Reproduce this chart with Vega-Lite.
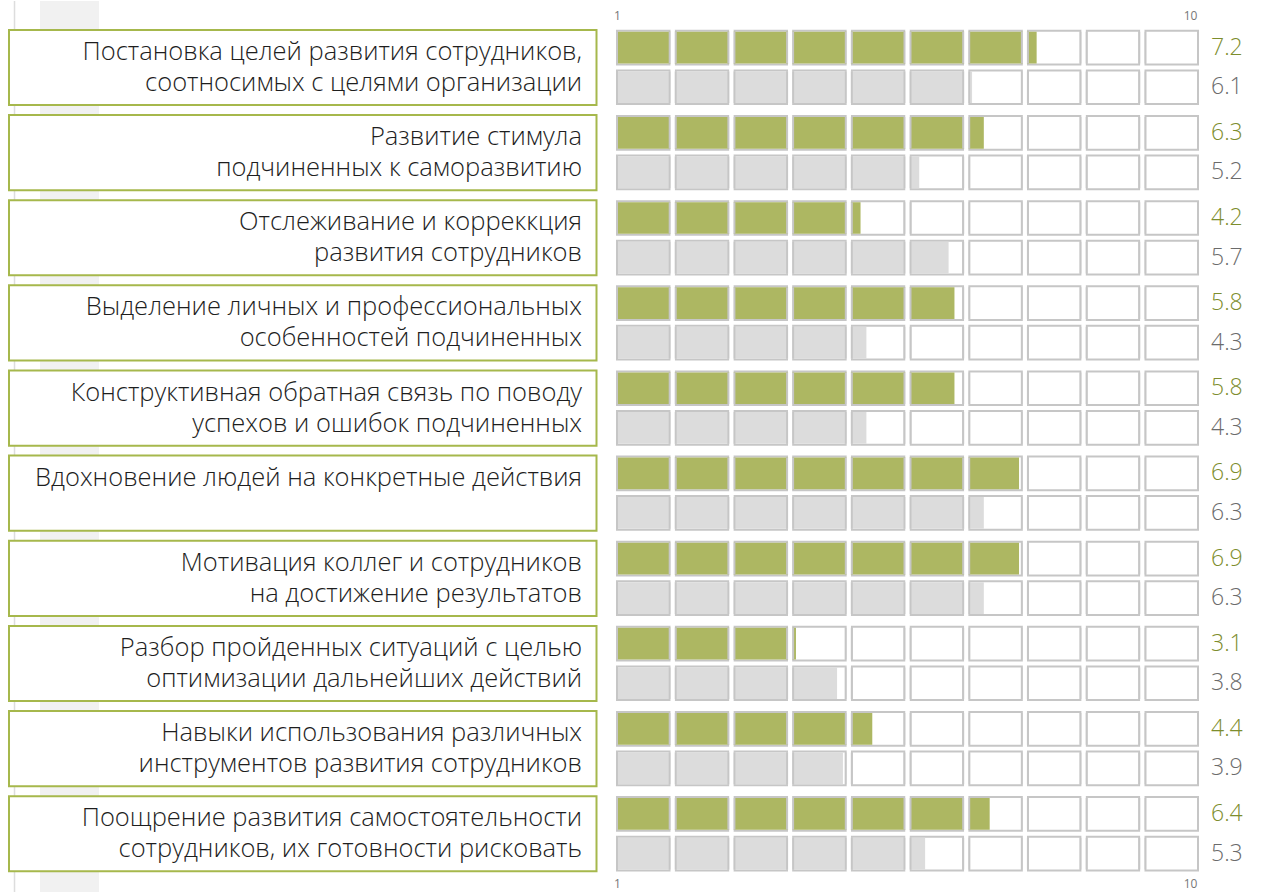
{
  "$schema": "https://vega.github.io/schema/vega-lite/v6.json",
  "width": 1261,
  "height": 893,
  "autosize": {"type": "fit", "contains": "padding"},
  "padding": 0,
  "background": "white",
  "config": {"view": {"stroke": null}, "font": "Open Sans"},
  "datasets": {
    "bars": [
      {"item": 1, "s": "a", "v": 7.2}, {"item": 1, "s": "b", "v": 6.1},
      {"item": 2, "s": "a", "v": 6.3}, {"item": 2, "s": "b", "v": 5.2},
      {"item": 3, "s": "a", "v": 4.2}, {"item": 3, "s": "b", "v": 5.7},
      {"item": 4, "s": "a", "v": 5.8}, {"item": 4, "s": "b", "v": 4.3},
      {"item": 5, "s": "a", "v": 5.8}, {"item": 5, "s": "b", "v": 4.3},
      {"item": 6, "s": "a", "v": 6.9}, {"item": 6, "s": "b", "v": 6.3},
      {"item": 7, "s": "a", "v": 6.9}, {"item": 7, "s": "b", "v": 6.3},
      {"item": 8, "s": "a", "v": 3.1}, {"item": 8, "s": "b", "v": 3.8},
      {"item": 9, "s": "a", "v": 4.4}, {"item": 9, "s": "b", "v": 3.9},
      {"item": 10, "s": "a", "v": 6.4}, {"item": 10, "s": "b", "v": 5.3}
    ],
    "items": [
      {"item": 1, "label": ["Постановка целей развития сотрудников,", "соотносимых с целями организации"]},
      {"item": 2, "label": ["Развитие стимула", "подчиненных к саморазвитию"]},
      {"item": 3, "label": ["Отслеживание и корреккция\u00a0", "развития сотрудников"]},
      {"item": 4, "label": ["Выделение личных и профессиональных\u00a0", "особенностей подчиненных"]},
      {"item": 5, "label": ["Конструктивная обратная связь по поводу", "успехов и ошибок подчиненных"]},
      {"item": 6, "label": ["Вдохновение людей на конкретные действия", ""]},
      {"item": 7, "label": ["Мотивация коллег и сотрудников\u00a0", "на достижение результатов"]},
      {"item": 8, "label": ["Разбор пройденных ситуаций с целью\u00a0", "оптимизации дальнейших действий"]},
      {"item": 9, "label": ["Навыки использования различных\u00a0", "инструментов развития сотрудников"]},
      {"item": 10, "label": ["Поощрение развития самостоятельности\u00a0", "сотрудников, их готовности рисковать"]}
    ],
    "deco": [{"part": "stripe"}]
  },
  "layer": [
    {
      "data": {"name": "deco"},
      "mark": {"type": "rect", "fill": "#f1f1f1"},
      "encoding": {
        "x": {"datum": -9.7785, "type": "quantitative", "scale": {"domain": [-10.46, 11.0221], "nice": false, "zero": false}, "axis": null},
        "x2": {"datum": -8.7734}
      }
    },
    {
      "data": {"name": "deco"},
      "mark": {"type": "rule", "stroke": "#dddddd", "strokeWidth": 1.5},
      "encoding": {
        "x": {"datum": -10.2129, "type": "quantitative", "scale": {"domain": [-10.46, 11.0221], "nice": false, "zero": false}, "axis": null}
      }
    },
    {
      "data": {"name": "items"},
      "mark": {"type": "rect", "fill": "white", "stroke": "#a6b84c", "strokeWidth": 2},
      "encoding": {
        "x": {"datum": -10.3066, "type": "quantitative", "scale": {"domain": [-10.46, 11.0221], "nice": false, "zero": false}, "axis": null},
        "x2": {"datum": -0.2981},
        "y": {"field": "item", "type": "ordinal", "scale": {"paddingInner": 0.117, "paddingOuter": 0.291, "align": 0.583}, "axis": null}
      }
    },
    {
      "data": {"name": "items"},
      "mark": {"type": "text", "align": "right", "baseline": "middle", "dx": -32, "dy": -15.5, "fontSize": 25.5, "fontWeight": 300, "lineHeight": 31, "fill": "#1e1e1e"},
      "encoding": {
        "x": {"datum": 0, "type": "quantitative", "scale": {"domain": [-10.46, 11.0221], "nice": false, "zero": false}, "axis": null},
        "y": {"field": "item", "type": "ordinal", "scale": {"paddingInner": 0.117, "paddingOuter": 0.291, "align": 0.583}, "axis": null},
        "text": {"field": "label", "type": "nominal"}
      }
    },
    {
      "data": {"name": "bars"},
      "transform": [{"filter": "datum.s == 'a'"}],
      "encoding": {
        "y": {"field": "item", "type": "ordinal", "bandPosition": 0.2369, "scale": {"paddingInner": 0.117, "paddingOuter": 0.291, "align": 0.583}, "axis": null}
      },
      "layer": [
        {
          "mark": {"type": "rule", "stroke": "#c6c6c6", "strokeWidth": 35.7, "strokeDash": [54.7, 4.0], "strokeCap": "butt", "xOffset": 2, "x2Offset": -2},
          "encoding": {
            "x": {"datum": 0, "type": "quantitative", "scale": {"domain": [-10.46, 11.0221], "nice": false, "zero": false},
              "axis": {"orient": "top", "values": [0.051, 9.813], "labelExpr": "datum.value < 1 ? '1' : '10'", "domain": false, "ticks": false, "grid": false, "title": null, "offset": -24, "labelPadding": 3, "labelFontSize": 12, "labelColor": "#777777", "labelFont": "Open Sans", "labelFlush": false}},
            "x2": {"datum": 10}
          }
        },
        {
          "mark": {"type": "rule", "stroke": "white", "strokeWidth": 31.7, "strokeDash": [50.7, 8.0], "strokeCap": "butt", "xOffset": 4, "x2Offset": -4},
          "encoding": {
            "x": {"datum": 0, "type": "quantitative", "scale": {"domain": [-10.46, 11.0221], "nice": false, "zero": false},
              "axis": {"orient": "bottom", "values": [0.051, 9.813], "labelExpr": "datum.value < 1 ? '1' : '10'", "domain": false, "ticks": false, "grid": false, "title": null, "offset": -16, "labelPadding": 2, "labelFontSize": 12, "labelColor": "#777777", "labelFont": "Open Sans", "labelFlush": false}},
            "x2": {"datum": 10}
          }
        },
        {
          "mark": {"type": "rule", "stroke": "#adb762", "strokeWidth": 31.7, "strokeCap": "butt", "x2Offset": 4},
          "encoding": {
            "x": {"field": "v", "type": "quantitative", "scale": {"domain": [-10.46, 11.0221], "nice": false, "zero": false}, "axis": null},
            "x2": {"datum": 0}
          }
        },
        {
          "mark": {"type": "rule", "stroke": "#c6c6c6", "strokeWidth": 31.7, "strokeDash": [8.0, 50.7], "strokeDashOffset": 4, "strokeCap": "butt"},
          "encoding": {
            "x": {"datum": 0, "type": "quantitative", "scale": {"domain": [-10.46, 11.0221], "nice": false, "zero": false}, "axis": null},
            "x2": {"datum": 10}
          }
        },
        {
          "mark": {"type": "rule", "stroke": "white", "strokeWidth": 36.5, "strokeDash": [4.0, 54.7], "strokeDashOffset": 2, "strokeCap": "butt"},
          "encoding": {
            "x": {"datum": 0, "type": "quantitative", "scale": {"domain": [-10.46, 11.0221], "nice": false, "zero": false}, "axis": null},
            "x2": {"datum": 10}
          }
        },
        {
          "mark": {"type": "text", "align": "left", "baseline": "middle", "dx": 10, "fontSize": 23, "fontWeight": 300, "fill": "#7d8d2d"},
          "encoding": {
            "x": {"datum": 10, "type": "quantitative", "scale": {"domain": [-10.46, 11.0221], "nice": false, "zero": false}, "axis": null},
            "text": {"field": "v", "type": "quantitative", "format": ".1f"}
          }
        }
      ],
      "resolve": {"axis": {"x": "independent"}}
    },
    {
      "data": {"name": "bars"},
      "transform": [{"filter": "datum.s == 'b'"}],
      "encoding": {
        "y": {"field": "item", "type": "ordinal", "bandPosition": 0.7631, "scale": {"paddingInner": 0.117, "paddingOuter": 0.291, "align": 0.583}, "axis": null}
      },
      "layer": [
        {
          "mark": {"type": "rule", "stroke": "#c6c6c6", "strokeWidth": 35.7, "strokeDash": [54.7, 4.0], "strokeCap": "butt", "xOffset": 2, "x2Offset": -2},
          "encoding": {
            "x": {"datum": 0, "type": "quantitative", "scale": {"domain": [-10.46, 11.0221], "nice": false, "zero": false}, "axis": null},
            "x2": {"datum": 10}
          }
        },
        {
          "mark": {"type": "rule", "stroke": "white", "strokeWidth": 31.7, "strokeDash": [50.7, 8.0], "strokeCap": "butt", "xOffset": 4, "x2Offset": -4},
          "encoding": {
            "x": {"datum": 0, "type": "quantitative", "scale": {"domain": [-10.46, 11.0221], "nice": false, "zero": false}, "axis": null},
            "x2": {"datum": 10}
          }
        },
        {
          "mark": {"type": "rule", "stroke": "#dcdcdc", "strokeWidth": 31.7, "strokeCap": "butt", "x2Offset": 4},
          "encoding": {
            "x": {"field": "v", "type": "quantitative", "scale": {"domain": [-10.46, 11.0221], "nice": false, "zero": false}, "axis": null},
            "x2": {"datum": 0}
          }
        },
        {
          "mark": {"type": "rule", "stroke": "#c6c6c6", "strokeWidth": 31.7, "strokeDash": [8.0, 50.7], "strokeDashOffset": 4, "strokeCap": "butt"},
          "encoding": {
            "x": {"datum": 0, "type": "quantitative", "scale": {"domain": [-10.46, 11.0221], "nice": false, "zero": false}, "axis": null},
            "x2": {"datum": 10}
          }
        },
        {
          "mark": {"type": "rule", "stroke": "white", "strokeWidth": 36.5, "strokeDash": [4.0, 54.7], "strokeDashOffset": 2, "strokeCap": "butt"},
          "encoding": {
            "x": {"datum": 0, "type": "quantitative", "scale": {"domain": [-10.46, 11.0221], "nice": false, "zero": false}, "axis": null},
            "x2": {"datum": 10}
          }
        },
        {
          "mark": {"type": "text", "align": "left", "baseline": "middle", "dx": 10, "fontSize": 23, "fontWeight": 300, "fill": "#6b6b6b"},
          "encoding": {
            "x": {"datum": 10, "type": "quantitative", "scale": {"domain": [-10.46, 11.0221], "nice": false, "zero": false}, "axis": null},
            "text": {"field": "v", "type": "quantitative", "format": ".1f"}
          }
        }
      ]
    }
  ],
  "resolve": {"axis": {"x": "independent"}}
}
